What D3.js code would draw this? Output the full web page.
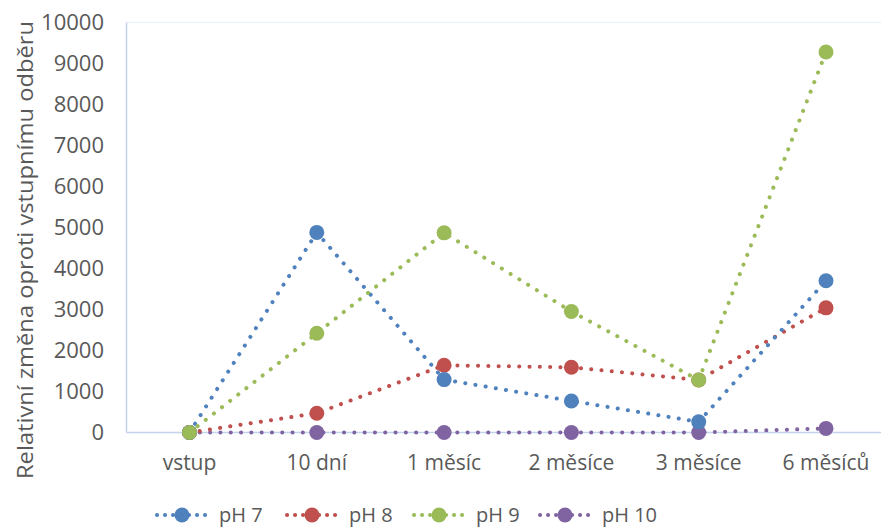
<!DOCTYPE html>
<html>
<head>
<meta charset="utf-8">
<script src="https://cdn.jsdelivr.net/npm/d3@7"></script>
<style>
  body { margin: 0; background: #fff; }
  text { font-family: "Open Sans", Lato, sans-serif; fill: #595959; }
</style>
</head>
<body>
<div id="chart"></div>
<script>
const width = 881, height = 528;

const categories = ["vstup", "10 dní", "1 měsíc", "2 měsíce", "3 měsíce", "6 měsíců"];
const seriesNames = ["pH 7", "pH 8", "pH 9", "pH 10"];
const seriesColors = ["#4F81BD", "#C0504D", "#9BBB59", "#8064A2"];
const ph7 = [0, 4880, 1290, 770, 260, 3700];
const ph8 = [0, 470, 1640, 1590, 1280, 3040];
const ph9 = [0, 2420, 4870, 2950, 1280, 9280];
const ph10 = [0, 0, 0, 0, 0, 100];
const yTicks = [0, 1000, 2000, 3000, 4000, 5000, 6000, 7000, 8000, 9000, 10000];

const allSeries = [ph7, ph8, ph9, ph10];
const order = [3, 1, 0, 2]; // drawing order, back to front

const plotLeft = 126.5, plotRight = 881, plotTop = 22.5, plotBottom = 432.5;

const x = d3.scalePoint()
    .domain(categories)
    .range([189.5, 826])
    .padding(0);

const y = d3.scaleLinear()
    .domain([0, 10000])
    .range([plotBottom, plotTop]);

const svg = d3.select("#chart")
    .append("svg")
    .attr("width", width)
    .attr("height", height);

// plot frame
svg.append("line")
    .attr("x1", plotLeft).attr("x2", plotRight)
    .attr("y1", plotTop).attr("y2", plotTop)
    .attr("stroke", "#eef2f8")
    .attr("stroke-width", 1.5);
svg.append("line")
    .attr("x1", plotLeft).attr("x2", plotLeft)
    .attr("y1", plotTop).attr("y2", plotBottom)
    .attr("stroke", "#c3d3ea")
    .attr("stroke-width", 1.5);
svg.append("line")
    .attr("x1", plotLeft).attr("x2", plotRight)
    .attr("y1", plotBottom).attr("y2", plotBottom)
    .attr("stroke", "#c3d3ea")
    .attr("stroke-width", 1.5);

// y tick labels
svg.append("g")
    .selectAll("text")
    .data(yTicks)
    .enter()
    .append("text")
    .attr("x", 104)
    .attr("y", d => y(d))
    .attr("dy", "0.36em")
    .attr("text-anchor", "end")
    .style("font-size", "22px")
    .text(d => d);

// x labels
svg.append("g")
    .selectAll("text")
    .data(categories)
    .enter()
    .append("text")
    .attr("x", d => x(d))
    .attr("y", 470)
    .attr("text-anchor", "middle")
    .style("font-size", "21px")
    .text(d => d);

// y title
svg.append("text")
    .attr("transform", "translate(33,250) rotate(-90)")
    .attr("text-anchor", "middle")
    .attr("textLength", 458)
    .attr("lengthAdjust", "spacingAndGlyphs")
    .style("font-size", "22px")
    .text("Relativní změna oproti vstupnímu odběru");

const line = d3.line()
    .x((d, i) => x(categories[i]))
    .y(d => y(d));

order.forEach(si => {
    svg.append("path")
        .attr("d", line(allSeries[si]))
        .attr("fill", "none")
        .attr("stroke", seriesColors[si])
        .attr("stroke-width", 4)
        .attr("stroke-linecap", "round")
        .attr("stroke-dasharray", "0.1 10.2");
});
order.forEach(si => {
    svg.append("g")
        .selectAll("circle")
        .data(allSeries[si])
        .enter()
        .append("circle")
        .attr("cx", (d, i) => x(categories[i]))
        .attr("cy", d => y(d))
        .attr("r", 7.5)
        .attr("fill", seriesColors[si]);
});

// legend
const legendX = [155, 285, 412, 538];
const legend = svg.append("g");
seriesNames.forEach((name, i) => {
    const lg = legend.append("g").attr("transform", "translate(" + legendX[i] + ",515)");
    lg.append("line")
        .attr("x1", 2).attr("x2", 52)
        .attr("y1", 0).attr("y2", 0)
        .attr("stroke", seriesColors[i])
        .attr("stroke-width", 4)
        .attr("stroke-linecap", "round")
        .attr("stroke-dasharray", "0.1 7.9");
    lg.append("circle")
        .attr("cx", 27)
        .attr("cy", 0)
        .attr("r", 7.5)
        .attr("fill", seriesColors[i]);
    lg.append("text")
        .attr("x", 64)
        .attr("y", 0)
        .attr("dy", "0.33em")
        .style("font-size", "20px")
        .text(name);
});
</script>
</body>
</html>
